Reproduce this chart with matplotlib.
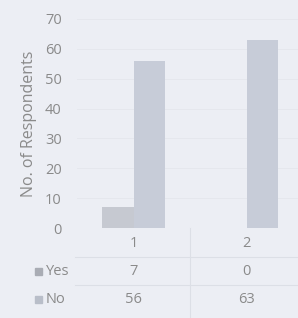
import numpy as np
import matplotlib
matplotlib.use("Agg")
import matplotlib.pyplot as plt
from matplotlib.patches import Rectangle

# Data
categories = ["1", "2"]
yes_values = [7, 0]
no_values = [56, 63]
series_names = ["Yes", "No"]
y_ticks = [0, 10, 20, 30, 40, 50, 60, 70]

bg = "#eceef4"
txt = "#8a8a8a"
yes_color = "#c6c9d1"
no_color = "#c7ccd8"
line_color = "#dcdfe6"

plt.rcParams["font.family"] = ["Open Sans", "DejaVu Sans"]

fig = plt.figure(figsize=(2.98, 3.18), dpi=100, facecolor=bg)
ax = fig.add_axes([77 / 298, 1 - 228 / 318, 226 / 298, 209 / 318])
ax.set_facecolor(bg)

x = np.arange(len(categories))
w = 0.283
ax.bar(x - w / 2, yes_values, w, color=yes_color, label="Yes")
ax.bar(x + w / 2, no_values, w, color=no_color, label="No")

ax.set_xlim(-0.5, 1.5)
ax.set_ylim(0, 70)
ax.set_yticks(y_ticks)
ax.set_yticklabels([str(t) for t in y_ticks], color=txt, fontsize=10.5)
ax.tick_params(axis="y", length=0, pad=11)
ax.set_xticks([])
for s in ax.spines.values():
    s.set_visible(False)
ax.grid(axis="y", color="#e4e6ec", linewidth=0.6)
ax.set_axisbelow(True)

ax.set_ylabel("No. of Respondents", color=txt, fontsize=11.5, labelpad=6)

# data table under the plot
trans = ax.get_xaxis_transform()
row_y = [-0.072, -0.21, -0.344]
for i, c in enumerate(categories):
    ax.text(x[i], row_y[0], c, transform=trans, ha="center", va="center",
            color=txt, fontsize=10.5, clip_on=False)
    ax.text(x[i], row_y[1], str(yes_values[i]), transform=trans, ha="center",
            va="center", color=txt, fontsize=10.5, clip_on=False)
    ax.text(x[i], row_y[2], str(no_values[i]), transform=trans, ha="center",
            va="center", color=txt, fontsize=10.5, clip_on=False)

for name, yy, col in zip(series_names, row_y[1:], ["#a9acb4", "#b9bec9"]):
    fy = (318 - 228) / 318 + yy * 209 / 318
    fig.patches.append(Rectangle((35 / 298, fy - 3.5 / 318), 7 / 298, 7 / 318,
                                 transform=fig.transFigure, color=col))
    fig.text(46 / 298, fy, name, color=txt, fontsize=10.5, ha="left",
             va="center")

# table lines
for yy in [-0.139, -0.273]:
    ax.plot([-0.52, 1.5], [yy, yy], transform=trans, color=line_color,
            linewidth=0.8, clip_on=False)
ax.plot([0.5, 0.5], [0, -0.45], transform=trans, color=line_color,
        linewidth=0.8, clip_on=False)

fig.savefig("out.png", dpi=100, facecolor=bg)
